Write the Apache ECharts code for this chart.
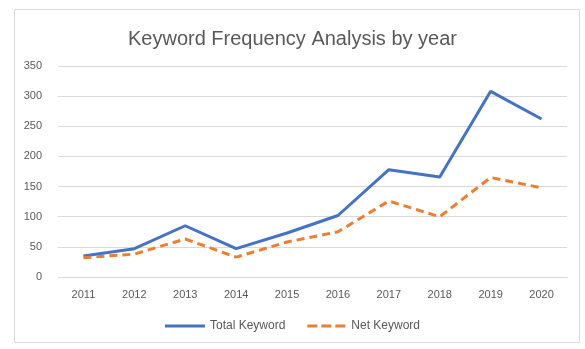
<!DOCTYPE html>
<html>
<head>
<meta charset="utf-8">
<script src="https://cdn.jsdelivr.net/npm/echarts@6/dist/echarts.min.js"></script>
<style>html,body{margin:0;padding:0;background:#fff;}#c{width:585px;height:349px;}</style>
</head>
<body>
<div id="c"></div>
<script>
const categories = ['2011','2012','2013','2014','2015','2016','2017','2018','2019','2020'];
const totalKeyword = [35, 47, 85, 47, 73, 102, 178, 166, 308, 262];
const netKeyword = [32, 38, 63, 33, 58, 75, 126, 100, 165, 148];
const seriesNames = ['Total Keyword', 'Net Keyword'];
const titleText = 'Keyword Frequency Analysis by year';

const chart = echarts.init(document.getElementById('c'), null, {renderer: 'canvas'});
const font = 'Liberation Sans';
chart.setOption({
  animation: false,
  backgroundColor: '#fff',
  graphic: [{
    type: 'rect', left: 12, top: 7,
    shape: {width: 565, height: 333},
    style: {fill: 'none', stroke: '#d9d9d9', lineWidth: 1}
  }],
  title: {
    text: titleText, left: 'center', top: 24,
    textStyle: {fontFamily: font, fontSize: 20, fontWeight: 'normal', color: '#595959'}
  },
  grid: {left: 58, right: 18, top: 66, bottom: 72},
  legend: {
    data: [
      {name: seriesNames[0], icon: 'rect'},
      {name: seriesNames[1], icon: 'path://M0,0h10v3h-10z M14,0h10v3h-10z M28,0h10v3h-10z'}
    ],
    bottom: 12, left: 'center', itemWidth: 40, itemHeight: 3, itemGap: 22,
    textStyle: {fontFamily: font, fontSize: 12, color: '#595959'}
  },
  xAxis: {
    type: 'category', data: categories, boundaryGap: true,
    axisLine: {lineStyle: {color: '#d9d9d9'}},
    axisTick: {show: false},
    axisLabel: {fontFamily: font, fontSize: 11, color: '#595959', margin: 12}
  },
  yAxis: {
    type: 'value', min: 0, max: 350, interval: 50,
    axisLine: {show: false}, axisTick: {show: false},
    splitLine: {lineStyle: {color: '#d9d9d9'}},
    axisLabel: {fontFamily: font, fontSize: 11, color: '#595959', margin: 16}
  },
  series: [
    {name: seriesNames[0], type: 'line', data: totalKeyword, symbol: 'none',
     lineStyle: {color: '#4472C4', width: 3}, itemStyle: {color: '#4472C4'}},
    {name: seriesNames[1], type: 'line', data: netKeyword, symbol: 'none',
     lineStyle: {color: '#ED7D31', width: 3, type: [8, 5]}, itemStyle: {color: '#ED7D31'}}
  ]
});
</script>
</body>
</html>
